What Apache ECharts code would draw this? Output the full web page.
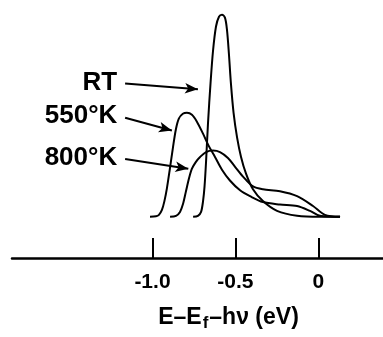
<!DOCTYPE html>
<html><head><meta charset="utf-8">
<script src="https://cdn.jsdelivr.net/npm/echarts@6/dist/echarts.min.js"></script>
<style>html,body{margin:0;padding:0;background:#fff}#c{width:383px;height:337px}</style>
</head><body><div id="c"></div>
<script>
// Energy E-Ef-hv (eV) and relative intensity (arbitrary units)
const rtX = [-0.755,-0.726,-0.707,-0.695,-0.686,-0.677,-0.665,-0.650,-0.635,-0.617,-0.599,-0.581,-0.563,-0.551,-0.539,-0.527,-0.511,-0.490,-0.466,-0.436,-0.394,-0.334,-0.249,-0.128,0.010,0.131];
const rtY = [0,1,5,16,31,56,96,136,169,194,204,206,203,191,166,136,106,81,61,44,28,16,6,1,0,0];

const k550X = [-1.015,-0.979,-0.961,-0.943,-0.928,-0.913,-0.895,-0.877,-0.859,-0.841,-0.817,-0.792,-0.762,-0.732,-0.696,-0.660,-0.623,-0.581,-0.533,-0.472,-0.412,-0.334,-0.231,-0.128,-0.050,0.010,0.131];
const k550Y = [0,0.5,2,7,16,29,49,70,89,100,105,106,104,97,85,72,61,48,37,27,21,15,12.5,11,6,1,0];

const k800X = [-0.894,-0.858,-0.834,-0.816,-0.798,-0.780,-0.762,-0.738,-0.713,-0.677,-0.635,-0.593,-0.545,-0.502,-0.454,-0.394,-0.334,-0.231,-0.128,-0.032,0.040,0.131];
const k800Y = [0,1,5,13,26,39,49,56,61,66,67.5,66,60,51,41,31,28,26,21,11,2,0];

const seriesNames = ['RT','550°K','800°K'];
// arrow annotations [startX,startY,endX,endY] in data units
const arrows = [
  [-1.165,136,-0.726,130],
  [-1.165,101,-0.883,88],
  [-1.165,59,-0.784,49]
];
const tickValues = [-1.0,-0.5,0];
const tickLabels = ['-1.0','-0.5','0'];

const FONT = '"Liberation Sans", Arial, sans-serif';
const zip = (xs, ys) => xs.map((x,i)=>[x, ys[i]]);
const datas = [zip(rtX,rtY), zip(k550X,k550Y), zip(k800X,k800Y)];

const chart = echarts.init(document.getElementById('c'), null, {renderer:'canvas'});
chart.setOption({
  animation:false,
  backgroundColor:'#fff',
  grid:{left:12,right:0,top:0,bottom:74},
  xAxis:{
    type:'value', min:-1.847, max:0.39,
    axisLine:{show:true,onZero:false,lineStyle:{color:'#000',width:2.5}},
    axisTick:{show:true,inside:true,length:20,lineStyle:{color:'#000',width:2},customValues:tickValues},
    axisLabel:{show:true,customValues:tickValues,margin:14,color:'#000',fontFamily:FONT,fontWeight:'bold',fontSize:21,
      formatter:(v)=>{const i=tickValues.findIndex(t=>Math.abs(t-v)<1e-9);return i>=0?tickLabels[i]:'';}},
    splitLine:{show:false},
    name:'E–E{s|f}–hν (eV)',
    nameLocation:'middle', nameGap:45,
    nameTextStyle:{color:'#000',fontFamily:FONT,fontWeight:'bold',fontSize:23,padding:[0,0,0,62],
      rich:{s:{fontSize:17,fontWeight:'bold',fontFamily:FONT,color:'#000',padding:[12,1,0,1]}}}
  },
  yAxis:{type:'value',min:-42,max:221,show:false,splitLine:{show:false}},
  series: datas.map((d,i)=>({
    type:'line', name:seriesNames[i], data:d, showSymbol:false, smooth:0.3,
    lineStyle:{color:'#000',width:2},
    markLine:{
      silent:true, symbol:['none','arrow'], symbolSize:[8,13],
      lineStyle:{color:'#000',width:2,type:'solid'},
      label:{show:true,position:'start',distance:8,formatter:seriesNames[i],color:'#000',fontFamily:FONT,fontWeight:'bold',fontSize:26},
      data:[[{coord:[arrows[i][0],arrows[i][1]]},{coord:[arrows[i][2],arrows[i][3]]}]]
    }
  }))
});
</script></body></html>
